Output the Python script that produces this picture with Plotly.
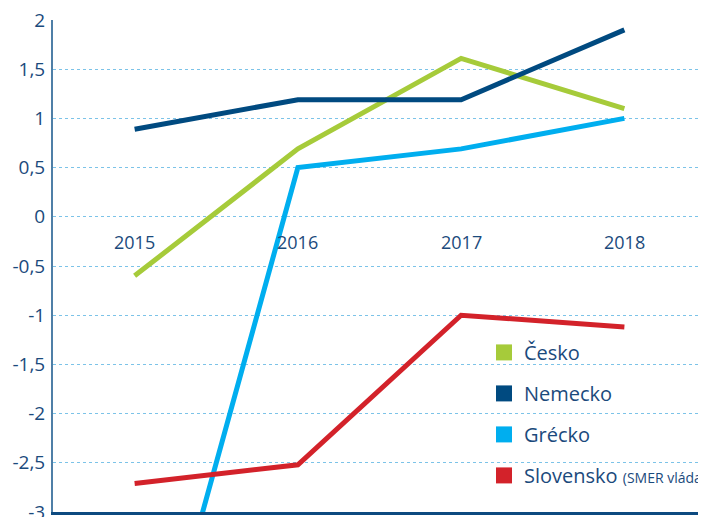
import plotly.graph_objects as go

# --- DATA ---
YEARS = ["2015", "2016", "2017", "2018"]
CESKO = [-0.6, 0.69, 1.61, 1.1]
NEMECKO = [0.89, 1.19, 1.19, 1.9]
GRECKO = [-5.5, 0.5, 0.69, 1.0]
SLOVENSKO = [-2.71, -2.52, -1.0, -1.12]

Y_TICKS = [-3, -2.5, -2, -1.5, -1, -0.5, 0, 0.5, 1, 1.5, 2]
Y_TICK_LABELS = [f"{v:g}".replace(".", ",") for v in Y_TICKS]

# --- THEME ---
TEXT_COLOR = "#1b4a7c"
GRID_COLOR = "#7cc3e8"
FONT = "Open Sans, Noto Sans, sans-serif"

SERIES = [
    ("Česko", CESKO, "#a6cb3a"),
    ("Nemecko", NEMECKO, "#004a80"),
    ("Grécko", GRECKO, "#00aeef"),
    ("Slovensko <span style='font-size:14px'>(SMER vláda)</span>", SLOVENSKO, "#d3222a"),
]

fig = go.Figure()

for i, (name, vals, color) in enumerate(SERIES):
    fig.add_trace(go.Scatter(
        x=YEARS, y=vals, mode="lines",
        line=dict(color=color, width=5),
        showlegend=False, hoverinfo="skip",
    ))
    # legend entry as square marker
    fig.add_trace(go.Scatter(
        x=[None], y=[None], mode="markers",
        marker=dict(symbol="square", size=22, color=color),
        name=name, legendgroup=f"g{i}",
    ))

# year labels sit on the zero line
for i, yr in enumerate(YEARS):
    fig.add_annotation(
        x=i, y=0, xref="x", yref="y", text=yr, showarrow=False,
        yanchor="top", yshift=-11,
        font=dict(size=18, color=TEXT_COLOR, family=FONT),
    )

# page body has an 8px margin; figure runs past the right edge so the
# legend (which reaches the window edge) does not push the margins
fig.update_layout(
    width=730, height=509,
    margin=dict(l=45, r=32, t=12, b=5),
    paper_bgcolor="white",
    plot_bgcolor="white",
    font=dict(family=FONT, color=TEXT_COLOR),
    xaxis=dict(
        type="category", range=[-0.5, 3.5], automargin=False,
        showticklabels=False, showgrid=False, zeroline=False,
        showline=True, linecolor="#0d4a80", linewidth=3,
    ),
    yaxis=dict(
        range=[-3, 2], tickvals=Y_TICKS, ticktext=Y_TICK_LABELS,
        automargin=False,
        tickfont=dict(size=19, color=TEXT_COLOR),
        ticklabeloverflow="allow",
        showgrid=True, gridcolor=GRID_COLOR, griddash="dot", gridwidth=1,
        zeroline=False,
        showline=True, linecolor="#4f7fa7", linewidth=2,
        ticks="", ticklabelstandoff=2,
    ),
    legend=dict(
        x=0.66, y=0.364, xanchor="left", yanchor="top",
        font=dict(size=20, color=TEXT_COLOR, family=FONT),
        tracegroupgap=12, bgcolor="rgba(0,0,0,0)",
        itemsizing="trace",
    ),
)

fig.write_html("out.html")
